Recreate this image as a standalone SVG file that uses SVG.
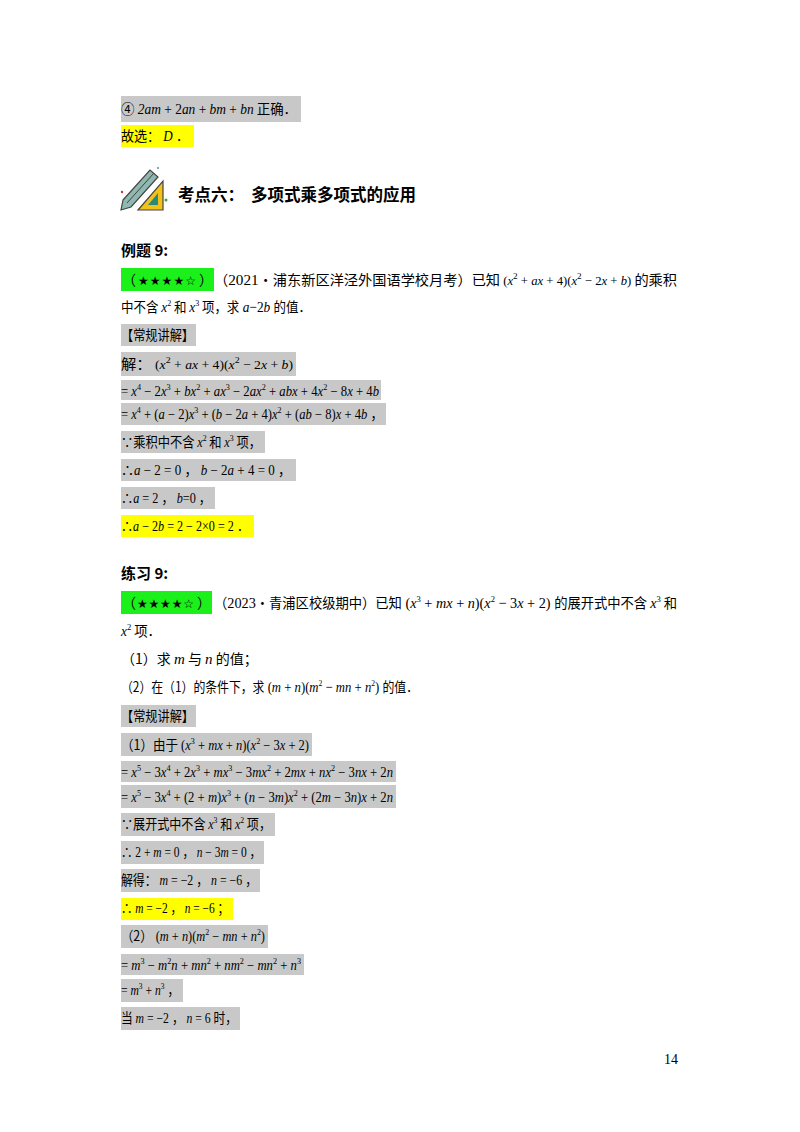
<svg xmlns="http://www.w3.org/2000/svg" width="800" height="1132" viewBox="0 0 800 1132">
<style>
text{font-family:"Liberation Serif","Noto Sans CJK SC",serif;font-size:14px;fill:#000}
.c{font-family:"Noto Sans CJK SC",sans-serif;font-size:14px}
.b{font-family:"Noto Sans CJK SC",sans-serif;font-size:15px;font-weight:bold}
.h{font-family:"Noto Sans CJK SC",sans-serif;font-size:16.5px;font-weight:bold}
.st{font-family:"DejaVu Sans",sans-serif;font-size:12px}
.i{font-style:italic}
.s{font-size:9px;baseline-shift:6px}
.g{fill:#c8c8c8}.y{fill:#ffff00}.gr{fill:#1bf01b}
</style>
<rect width="800" height="1132" fill="#fff"/>
<rect class="g" x="121" y="96" width="180" height="26"/>
<rect class="y" x="121" y="125" width="73" height="22"/>
<rect class="gr" x="121" y="268" width="93" height="23"/>
<rect class="g" x="121" y="324" width="75" height="22"/>
<rect class="g" x="121" y="352" width="175" height="24"/>
<rect class="g" x="121" y="380" width="260" height="20"/>
<rect class="g" x="121" y="403" width="265" height="22"/>
<rect class="g" x="121" y="431" width="144" height="22"/>
<rect class="g" x="121" y="459" width="175" height="22"/>
<rect class="g" x="121" y="487" width="94" height="22"/>
<rect class="y" x="121" y="515" width="133" height="22"/>
<rect class="gr" x="121" y="591" width="91" height="23"/>
<rect class="g" x="121" y="705" width="75" height="22"/>
<rect class="g" x="121" y="733" width="191" height="23"/>
<rect class="g" x="121" y="761" width="275" height="21"/>
<rect class="g" x="121" y="785" width="275" height="23"/>
<rect class="g" x="121" y="813" width="154" height="23"/>
<rect class="g" x="121" y="841" width="143" height="23"/>
<rect class="g" x="121" y="869" width="139" height="23"/>
<rect class="y" x="121" y="898" width="112" height="22"/>
<rect class="g" x="121" y="925" width="147" height="23"/>
<rect class="g" x="121" y="954" width="183" height="21"/>
<rect class="g" x="121" y="979" width="62" height="23"/>
<rect class="g" x="121" y="1007" width="119" height="23"/>
<g id="icon">
<polygon points="138,210 163,181 163,210" fill="#f2c21b" stroke="#444" stroke-width="1.2"/>
<polygon points="148,205 158,193 158,205" fill="#2a8a7a"/>
<polygon points="123,200 150,170 158,177 131,207 121,210" fill="#8fb8b0" stroke="#444" stroke-width="1.2"/>
<line x1="127" y1="203" x2="154" y2="173" stroke="#444"/>
<circle cx="166" cy="200" r="1.5" fill="#3a3"/>
<circle cx="122" cy="192" r="1.2" fill="#c33"/>
<circle cx="158" cy="168" r="1.2" fill="#8ab"/>
</g>
<text x="121" y="114" textLength="176" lengthAdjust="spacingAndGlyphs"><tspan class="c">④</tspan><tspan class="i"> 2am</tspan> + 2<tspan class="i">an</tspan> + <tspan class="i">bm</tspan> + <tspan class="i">bn</tspan><tspan class="c"> 正确．</tspan></text>
<text x="121" y="141" textLength="68" lengthAdjust="spacingAndGlyphs"><tspan class="c">故选：</tspan><tspan class="i"> D</tspan> ．</text>
<text class="h" x="178" y="201">考点六：</text>
<text class="h" x="251" y="201">多项式乘多项式的应用</text>
<text class="b" x="121" y="256">例题 9:</text>
<text class="c" x="122" y="285">（</text><text class="st" x="138" y="285" textLength="58" lengthAdjust="spacing">★★★★☆</text><text class="c" x="199" y="285">）</text>
<text class="c" x="214" y="285" textLength="463" lengthAdjust="spacingAndGlyphs">（<tspan font-family="Liberation Serif" font-size="15">2021</tspan>•浦东新区洋泾外国语学校月考）已知<tspan font-family="Liberation Serif" font-size="12.5"> (<tspan class="i">x</tspan><tspan class="s">2</tspan> + <tspan class="i">ax</tspan> + 4)(<tspan class="i">x</tspan><tspan class="s">2</tspan> − 2<tspan class="i">x</tspan> + <tspan class="i">b</tspan>) </tspan>的乘积</text>
<text class="c" x="121" y="312" textLength="190" lengthAdjust="spacingAndGlyphs">中不含 <tspan font-family="Liberation Serif" class="i" font-size="15">x</tspan><tspan class="s" font-family="Liberation Serif">2</tspan> 和 <tspan font-family="Liberation Serif" class="i" font-size="15">x</tspan><tspan class="s" font-family="Liberation Serif">3</tspan> 项，求<tspan font-family="Liberation Serif" font-size="15"><tspan class="i"> a</tspan>−2<tspan class="i">b</tspan> </tspan>的值．</text>
<text class="c" x="121" y="340" textLength="73" lengthAdjust="spacingAndGlyphs">【常规讲解】</text>
<text x="121" y="369" textLength="172" lengthAdjust="spacingAndGlyphs"><tspan class="c">解：</tspan><tspan font-size="12.5"> (<tspan class="i">x</tspan><tspan class="s">2</tspan> + <tspan class="i">ax</tspan> + 4)(<tspan class="i">x</tspan><tspan class="s">2</tspan> − 2<tspan class="i">x</tspan> + <tspan class="i">b</tspan>)</tspan></text>
<text x="121" y="396" textLength="258" lengthAdjust="spacingAndGlyphs">= <tspan class="i">x</tspan><tspan class="s">4</tspan> − 2<tspan class="i">x</tspan><tspan class="s">3</tspan> + <tspan class="i">bx</tspan><tspan class="s">2</tspan> + <tspan class="i">ax</tspan><tspan class="s">3</tspan> − 2<tspan class="i">ax</tspan><tspan class="s">2</tspan> + <tspan class="i">abx</tspan> + 4<tspan class="i">x</tspan><tspan class="s">2</tspan> − 8<tspan class="i">x</tspan> + 4<tspan class="i">b</tspan></text>
<text x="121" y="419" textLength="262" lengthAdjust="spacingAndGlyphs" font-size="13">=  <tspan class="i">x</tspan><tspan class="s">4</tspan> + (<tspan class="i">a</tspan> − 2)<tspan class="i">x</tspan><tspan class="s">3</tspan> + (<tspan class="i">b</tspan> − 2<tspan class="i">a</tspan> + 4)<tspan class="i">x</tspan><tspan class="s">2</tspan> + (<tspan class="i">ab</tspan> − 8)<tspan class="i">x</tspan> + 4<tspan class="i">b</tspan>  ，</text>
<text x="121" y="447" textLength="140" lengthAdjust="spacingAndGlyphs"><tspan class="c">∵乘积中不含 </tspan><tspan class="i">x</tspan><tspan class="s">2</tspan><tspan class="c"> 和 </tspan><tspan class="i">x</tspan><tspan class="s">3</tspan><tspan class="c"> 项，</tspan></text>
<text x="121" y="475" textLength="170" lengthAdjust="spacingAndGlyphs">∴<tspan class="i">a</tspan> − 2 = 0 ， <tspan class="i">b</tspan> − 2<tspan class="i">a</tspan> + 4 = 0 ，</text>
<text x="121" y="503" textLength="90" lengthAdjust="spacingAndGlyphs">∴<tspan class="i">a</tspan> = 2 ， <tspan class="i">b</tspan>=0 ，</text>
<text x="121" y="531" textLength="128" lengthAdjust="spacingAndGlyphs">∴<tspan class="i">a</tspan> − 2<tspan class="i">b</tspan> = 2 − 2×0 = 2 ．</text>
<text class="b" x="121" y="579">练习 9:</text>
<text class="c" x="122" y="608">（</text><text class="st" x="137" y="608" textLength="57" lengthAdjust="spacing">★★★★☆</text><text class="c" x="197" y="608">）</text>
<text class="c" x="214" y="608" textLength="463" lengthAdjust="spacingAndGlyphs">（<tspan font-family="Liberation Serif" font-size="15">2023</tspan>•青浦区校级期中）已知<tspan font-family="Liberation Serif" font-size="15"> (<tspan class="i">x</tspan><tspan class="s">3</tspan> + <tspan class="i">mx</tspan> + <tspan class="i">n</tspan>)(<tspan class="i">x</tspan><tspan class="s">2</tspan> − 3<tspan class="i">x</tspan> + 2) </tspan>的展开式中不含 <tspan font-family="Liberation Serif" class="i" font-size="15">x</tspan><tspan class="s" font-family="Liberation Serif">3</tspan> 和</text>
<text x="121" y="636" textLength="40" lengthAdjust="spacingAndGlyphs"><tspan class="i">x</tspan><tspan class="s">2</tspan><tspan class="c"> 项．</tspan></text>
<text class="c" x="121" y="664">（1）求 <tspan font-family="Liberation Serif" class="i" font-size="15">m</tspan> 与 <tspan font-family="Liberation Serif" class="i" font-size="15">n</tspan> 的值；</text>
<text class="c" x="121" y="692" textLength="297" lengthAdjust="spacingAndGlyphs">（2）在（1）的条件下，求<tspan font-family="Liberation Serif" font-size="15"> (<tspan class="i">m</tspan> + <tspan class="i">n</tspan>)(<tspan class="i">m</tspan><tspan class="s">2</tspan> − <tspan class="i">mn</tspan> + <tspan class="i">n</tspan><tspan class="s">2</tspan>) </tspan>的值．</text>
<text class="c" x="121" y="721" textLength="73" lengthAdjust="spacingAndGlyphs">【常规讲解】</text>
<text x="121" y="750" textLength="188" lengthAdjust="spacingAndGlyphs"><tspan class="c">（1）由于</tspan> (<tspan class="i">x</tspan><tspan class="s">3</tspan> + <tspan class="i">mx</tspan> + <tspan class="i">n</tspan>)(<tspan class="i">x</tspan><tspan class="s">2</tspan> − 3<tspan class="i">x</tspan> + 2)</text>
<text x="121" y="777" textLength="272" lengthAdjust="spacingAndGlyphs">= <tspan class="i">x</tspan><tspan class="s">5</tspan> − 3<tspan class="i">x</tspan><tspan class="s">4</tspan> + 2<tspan class="i">x</tspan><tspan class="s">3</tspan> + <tspan class="i">mx</tspan><tspan class="s">3</tspan> − 3<tspan class="i">mx</tspan><tspan class="s">2</tspan> + 2<tspan class="i">mx</tspan> + <tspan class="i">nx</tspan><tspan class="s">2</tspan> − 3<tspan class="i">nx</tspan> + 2<tspan class="i">n</tspan></text>
<text x="121" y="802" textLength="272" lengthAdjust="spacingAndGlyphs">= <tspan class="i">x</tspan><tspan class="s">5</tspan> − 3<tspan class="i">x</tspan><tspan class="s">4</tspan> + (2 + <tspan class="i">m</tspan>)<tspan class="i">x</tspan><tspan class="s">3</tspan> + (<tspan class="i">n</tspan> − 3<tspan class="i">m</tspan>)<tspan class="i">x</tspan><tspan class="s">2</tspan> + (2<tspan class="i">m</tspan> − 3<tspan class="i">n</tspan>)<tspan class="i">x</tspan> + 2<tspan class="i">n</tspan></text>
<text x="121" y="829" textLength="150" lengthAdjust="spacingAndGlyphs"><tspan class="c">∵展开式中不含 </tspan><tspan class="i">x</tspan><tspan class="s">3</tspan><tspan class="c"> 和 </tspan><tspan class="i">x</tspan><tspan class="s">2</tspan><tspan class="c"> 项，</tspan></text>
<text x="121" y="857" textLength="140" lengthAdjust="spacingAndGlyphs">∴ 2 + <tspan class="i">m</tspan> = 0 ， <tspan class="i">n</tspan> − 3<tspan class="i">m</tspan> = 0 ，</text>
<text x="121" y="885" textLength="136" lengthAdjust="spacingAndGlyphs"><tspan class="c">解得：</tspan> <tspan class="i">m</tspan> = −2 ， <tspan class="i">n</tspan> = −6 ，</text>
<text x="121" y="913" textLength="108" lengthAdjust="spacingAndGlyphs">∴ <tspan class="i">m</tspan> = −2 ， <tspan class="i">n</tspan> = −6 ；</text>
<text x="121" y="941" textLength="144" lengthAdjust="spacingAndGlyphs"><tspan class="c">（2）</tspan> (<tspan class="i">m</tspan> + <tspan class="i">n</tspan>)(<tspan class="i">m</tspan><tspan class="s">2</tspan> − <tspan class="i">mn</tspan> + <tspan class="i">n</tspan><tspan class="s">2</tspan>)</text>
<text x="121" y="970" textLength="180" lengthAdjust="spacingAndGlyphs">= <tspan class="i">m</tspan><tspan class="s">3</tspan> − <tspan class="i">m</tspan><tspan class="s">2</tspan><tspan class="i">n</tspan> + <tspan class="i">mn</tspan><tspan class="s">2</tspan> + <tspan class="i">nm</tspan><tspan class="s">2</tspan> − <tspan class="i">mn</tspan><tspan class="s">2</tspan> + <tspan class="i">n</tspan><tspan class="s">3</tspan></text>
<text x="121" y="995" textLength="58" lengthAdjust="spacingAndGlyphs">= <tspan class="i">m</tspan><tspan class="s">3</tspan> + <tspan class="i">n</tspan><tspan class="s">3</tspan> ，</text>
<text x="121" y="1023" textLength="116" lengthAdjust="spacingAndGlyphs"><tspan class="c">当</tspan> <tspan class="i">m</tspan> = −2 ， <tspan class="i">n</tspan> = 6 <tspan class="c">时，</tspan></text>
<text x="664" y="1064" font-size="14">14</text>
</svg>
